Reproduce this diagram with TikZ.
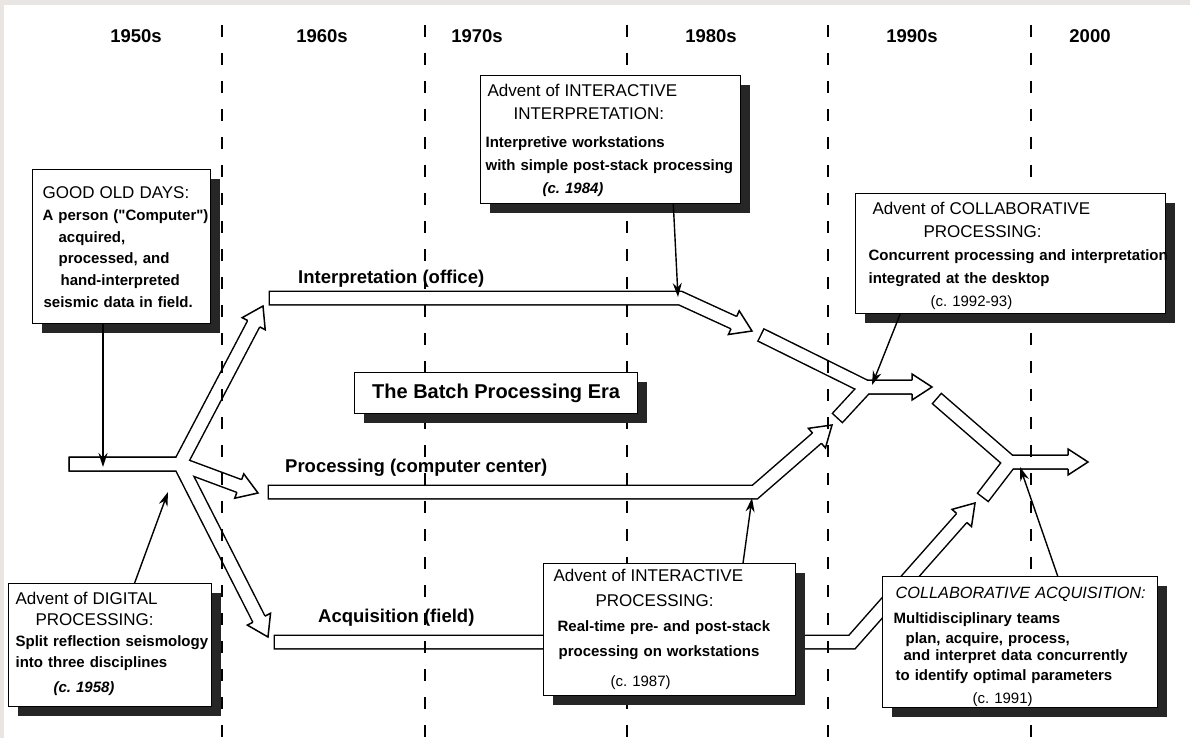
\documentclass[tikz,border=0pt]{standalone}
\usepackage{fontspec}
\setmainfont{Liberation Sans}
\usepackage{tikz}
\usetikzlibrary{arrows.meta,calc,shadows}

\definecolor{scan}{RGB}{233,229,226}
\newcommand{\boxhead}{\fontsize{17}{22}\selectfont\mdseries}
% hollow head of a pipe: #1 = base point, #2 = tip
\newcommand{\hollowhead}[2]{%
	\filldraw [fill=white, line width=1.5pt, line join=miter]
		($(#1)!6.75pt!90:(#2)$) -- ($(#1)!13pt!90:(#2)$) -- (#2)
		-- ($(#1)!13pt!-90:(#2)$) -- ($(#1)!6.75pt!-90:(#2)$);}

\begin{document}
\begin{tikzpicture}[
			x=1pt, y=-1pt,
			decade/.style={font=\fontsize{18.5}{20}\selectfont\bfseries, anchor=base},
			lane/.style={font=\fontsize{18.5}{20}\selectfont\bfseries, anchor=base west, inner sep=0pt},
			era/.style={line width=1.6pt, dash pattern=on 12pt off 16pt},
			pipeout/.style={line width=15pt, line cap=rect, line join=miter},
			pipein/.style={line width=12pt, white, line cap=rect, line join=miter},
			box/.style={rectangle, draw, fill=white, line width=1.2pt, anchor=north west, inner sep=0pt,
				drop shadow={shadow xshift=9pt, shadow yshift=-9pt, fill=black!85, opacity=1}},
			notebox/.style={box, align=left, font=\fontsize{15}{#1}\selectfont\bfseries,
				execute at begin node={\rightskip=-4em plus 1fil}},
			note/.style={line width=1.4pt, -{Stealth[length=14pt, width=9pt]}},
			]
			\useasboundingbox (0,0) rectangle (1190,738);
			\fill [scan] (0,0) rectangle (1190,738);
			\fill [white] (4,5) rectangle (1190,738);

			% pipe points
			\coordinate (S0) at (76,464);
			\coordinate (J1) at (180,464);
			\coordinate (upT) at (263,306);
			\coordinate (midT) at (258,493);
			\coordinate (dnT) at (268,637);
			\coordinate (I0) at (276,298);
			\coordinate (I1) at (680,298);
			\coordinate (iT) at (752,331);
			\coordinate (P0) at (275,492);
			\coordinate (P1) at (755,492);
			\coordinate (pT) at (832,425);
			\coordinate (A0) at (281,642);
			\coordinate (A1) at (852,642);
			\coordinate (aT) at (975,503);
			\coordinate (C0) at (767,338);
			\coordinate (D0) at (842,413);
			\coordinate (J2) at (866,387);
			\coordinate (cT) at (932,387);
			\coordinate (E0) at (942,403);
			\coordinate (F0) at (987,492);
			\coordinate (J3) at (1010,462);
			\coordinate (eT) at (1088,462);
			\foreach \hd/\bk in {upT/J1, midT/J1, dnT/J1, iT/I1, pT/P1, aT/A1, cT/J2, eT/J3}
				\coordinate (\hd-b) at ($(\hd)!20pt!(\bk)$);

			% pipes: all outlines first, then all insides
			\foreach \pen in {pipeout, pipein} {
				\draw [\pen] (S0) -- (J1) -- (upT-b);
				\draw [\pen] (S0) -- (J1) -- (midT-b);
				\draw [\pen] (S0) -- (J1) -- (dnT-b);
				\draw [\pen] (I0) -- (I1) -- (iT-b);
				\draw [\pen] (P0) -- (P1) -- (pT-b);
				\draw [\pen] (A0) -- (A1) -- (aT-b);
				\draw [\pen] (C0) -- (J2) -- (cT-b);
				\draw [\pen] (D0) -- (J2) -- (cT-b);
				\draw [\pen] (E0) -- (J3) -- (eT-b);
				\draw [\pen] (F0) -- (J3) -- (eT-b);
			}
			\foreach \hd in {upT, midT, dnT, iT, pT, aT, cT, eT}
				\hollowhead{\hd-b}{\hd};

			% decades
			\foreach \xx in {222, 425, 627, 828, 1031}
				\draw [era] (\xx,25) -- (\xx,738);
			\foreach \yr/\xx in {1950s/136, 1960s/322, 1970s/477, 1980s/711, 1990s/912, 2000/1090}
				\node [decade] (d\yr) at (\xx,42.5) {\yr};

			\node [lane] (linterp) at (298,283) {Interpretation (office)};
			\node [lane] (lproc) at (285,472) {Processing (computer center)};
			\node [lane] (lacq) at (318,622) {Acquisition (field)};

			\node [box, minimum width=283pt, minimum height=41pt,
				font=\fontsize{20}{22}\selectfont\bfseries] (batch) at (354,372) {The Batch Processing Era};

			\node [notebox=21.7, text width=178pt] (good) at (32,169) {%
				{\boxhead\hspace*{10pt}\rule{0pt}{29pt}GOOD OLD DAYS:}\\
				\hspace*{10pt}A person (\textquotedbl Computer\textquotedbl)\\
				\hspace*{26pt}acquired,\\
				\hspace*{26pt}processed, and\\
				\hspace*{28pt}hand-interpreted\\
				\hspace*{11pt}seismic data in field.\rule[-16.5pt]{0pt}{0pt}};

			\node [notebox=21, text width=203pt] (digital) at (8,583) {%
				{\boxhead\hspace*{7pt}\rule{0pt}{21pt}Advent of DIGITAL}\\
				{\boxhead\hspace*{27pt}PROCESSING:}\\
				\hspace*{7pt}Split reflection seismology\\
				\hspace*{7pt}into three disciplines\\[4pt]
				\hspace*{45pt}\itshape (c.\ 1958)\rule[-14pt]{0pt}{0pt}};

			\node [notebox=23, text width=260pt] (interp) at (480,75) {%
				{\boxhead\hspace*{7pt}\rule{0pt}{21pt}Advent of INTERACTIVE}\\
				{\boxhead\hspace*{33pt}INTERPRETATION:}\\[5pt]
				\hspace*{5pt}Interpretive workstations\\
				\hspace*{5pt}with simple post-stack processing\\
				\hspace*{62pt}\itshape (c.\ 1984)\rule[-10pt]{0pt}{0pt}};

			\node [notebox=25, text width=252pt] (proc) at (543,563) {%
				{\boxhead\hspace*{10pt}\rule{0pt}{18pt}Advent of INTERACTIVE}\\
				{\boxhead\hspace*{52pt}PROCESSING:}\\
				\hspace*{14pt}Real-time pre- and post-stack\\
				\hspace*{15pt}processing on workstations\\[5pt]
				\hspace*{67pt}\mdseries (c.\ 1987)\rule[-9pt]{0pt}{0pt}};

			\node [notebox=23, text width=310pt] (colproc) at (855,193) {%
				{\boxhead\hspace*{17pt}\rule{0pt}{21pt}Advent of COLLABORATIVE}\\
				{\boxhead\hspace*{68pt}PROCESSING:}\\
				\hspace*{13pt}Concurrent processing and interpretation\\
				\hspace*{13pt}integrated at the desktop\\
				\hspace*{75pt}\mdseries (c.\ 1992-93)\rule[-7pt]{0pt}{0pt}};

			\node [notebox=20, text width=275pt] (colacq) at (882,576) {%
				{\fontsize{16.3}{20}\selectfont\mdseries\itshape\hspace*{13pt}\rule{0pt}{22pt}COLLABORATIVE ACQUISITION:}\\[4.5pt]
				\hspace*{11pt}Multidisciplinary teams\\
				\hspace*{23pt}plan, acquire, process,\\[-3pt]
				\hspace*{21pt}and interpret data concurrently\\
				\hspace*{13pt}to identify optimal parameters\\[3pt]
				\hspace*{90pt}\mdseries (c.\ 1991)\rule[-4.5pt]{0pt}{0pt}};

			% pointers from the notes
			\coordinate (toMain) at (103,467);
			\coordinate (toSplit) at (168,492);
			\coordinate (toInterp) at (678,297);
			\coordinate (toProc) at (752,498);
			\coordinate (toMerge) at (872,385);
			\coordinate (toFinal) at (1020,467);
			\draw [note] (good.south -| toMain) -- (toMain);
			\draw [note] ($(digital.north west)!0.62!(digital.north east)$) -- (toSplit);
			\draw [note] ($(interp.south west)!0.74!(interp.south east)$) -- (toInterp);
			\draw [note] ($(proc.north west)!0.79!(proc.north east)$) -- (toProc);
			\draw [note] ($(colproc.south west)!0.145!(colproc.south east)$) -- (toMerge);
			\draw [note] ($(colacq.north west)!0.636!(colacq.north east)$) -- (toFinal);
		\end{tikzpicture}
\end{document}
